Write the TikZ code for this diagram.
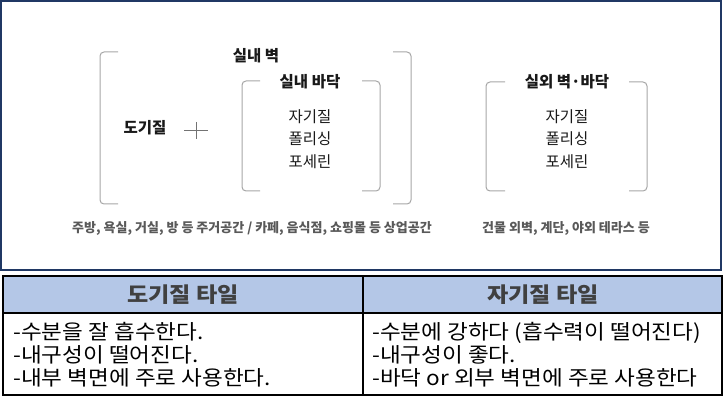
\documentclass[tikz,border=0pt]{standalone}
\usepackage{fontspec}
\setmainfont{Noto Sans CJK KR}
\newfontfamily\widefont[FakeStretch=1.1]{Noto Sans CJK KR}
\definecolor{framecol}{HTML}{203864}
\definecolor{brk}{HTML}{A6A6A6}
\definecolor{headfill}{HTML}{B4C7E7}
\definecolor{notecol}{HTML}{595959}
\tikzset{
  bigtxt/.style={font=\fontsize{15.5}{18}\selectfont\bfseries, text=black!90, anchor=base, inner sep=0pt},
  itemtxt/.style={font=\fontsize{15.5}{18}\selectfont, text=black!90, anchor=base, inner sep=0pt},
  notetxt/.style={font=\fontsize{13}{15}\selectfont\bfseries, text=notecol, anchor=base, inner sep=0pt},
  headtxt/.style={font=\widefont\fontsize{21}{24}\selectfont\bfseries, text=black!75, anchor=base, inner sep=0pt},
  rowtxt/.style={font=\widefont\fontsize{20.5}{24}\selectfont, anchor=base west, inner sep=0pt},
  bracketline/.style={draw=brk, line width=1pt, rounded corners=4pt}
}
\begin{document}
\begin{tikzpicture}[>=stealth, thick, x=1pt, y=-1pt]
        \useasboundingbox (0,0) rectangle (725,403);
        \draw[framecol, line width=2pt] (1,1) rectangle (721,270);
        % 실내 벽
        \draw[bracketline] (118,52) -| (100,204) -- (118,204);
        \draw[bracketline] (393,52) -| (411,204) -- (393,204);
        \node[bigtxt] (wall) at (256,61.5) {실내 벽};
        \node[bigtxt] (pottery) at (145,133.5) {도기질};
        \draw[black!55, line width=1pt] (184,131) -- (208,131) (196,122) -- (196,139);
        % 실내 바닥
        \draw[bracketline] (260,81) -| (242,191) -- (260,191);
        \draw[bracketline] (362,81) -| (380,191) -- (362,191);
        \node[bigtxt] (floor) at (310,87.5) {실내 바닥};
        % 실외 벽·바닥
        \draw[bracketline] (505,82) -| (486,191) -- (505,191);
        \draw[bracketline] (629,82) -| (647,191) -- (629,191);
        \node[bigtxt] (outside) at (567,87.5) {실외 벽·바닥};
        \foreach \t [count=\i] in {자기질,폴리싱,포세린}
            {
                \node[itemtxt] (in\i) at (310,100+22.5*\i) {\t};
                \node[itemtxt] (out\i) at (567,100+22.5*\i) {\t};
            }
        \node[notetxt] (usein) at (252,232.5) {주방, 욕실, 거실, 방 등 주거공간 / 카페, 음식점, 쇼핑몰 등 상업공간};
        \node[notetxt] (useout) at (566,232.5) {건물 외벽, 계단, 야외 테라스 등};
        % 표
        \fill[headfill] (3,276) rectangle (722,313);
        \draw[line width=1.2pt] (3,276) rectangle (722,395);
        \draw[line width=1.2pt] (3,313) -- (722,313) (363,276) -- (363,395);
        \node[headtxt] (headl) at (183,302.5) {도기질 타일};
        \node[headtxt] (headr) at (543,302.5) {자기질 타일};
        \foreach \t [count=\i] in {-수분을 잘 흡수한다.,-내구성이 떨어진다.,-내부 벽면에 주로 사용한다.}
            {
                \node[rowtxt] (rowl\i) at (13,316+23*\i) {\t};
            }
        \foreach \t [count=\i] in {-수분에 강하다 (흡수력이 떨어진다),-내구성이 좋다.,-바닥 or 외부 벽면에 주로 사용한다}
            {
                \node[rowtxt] (rowr\i) at (372,316+23*\i) {\t};
            }
    \end{tikzpicture}
\end{document}
